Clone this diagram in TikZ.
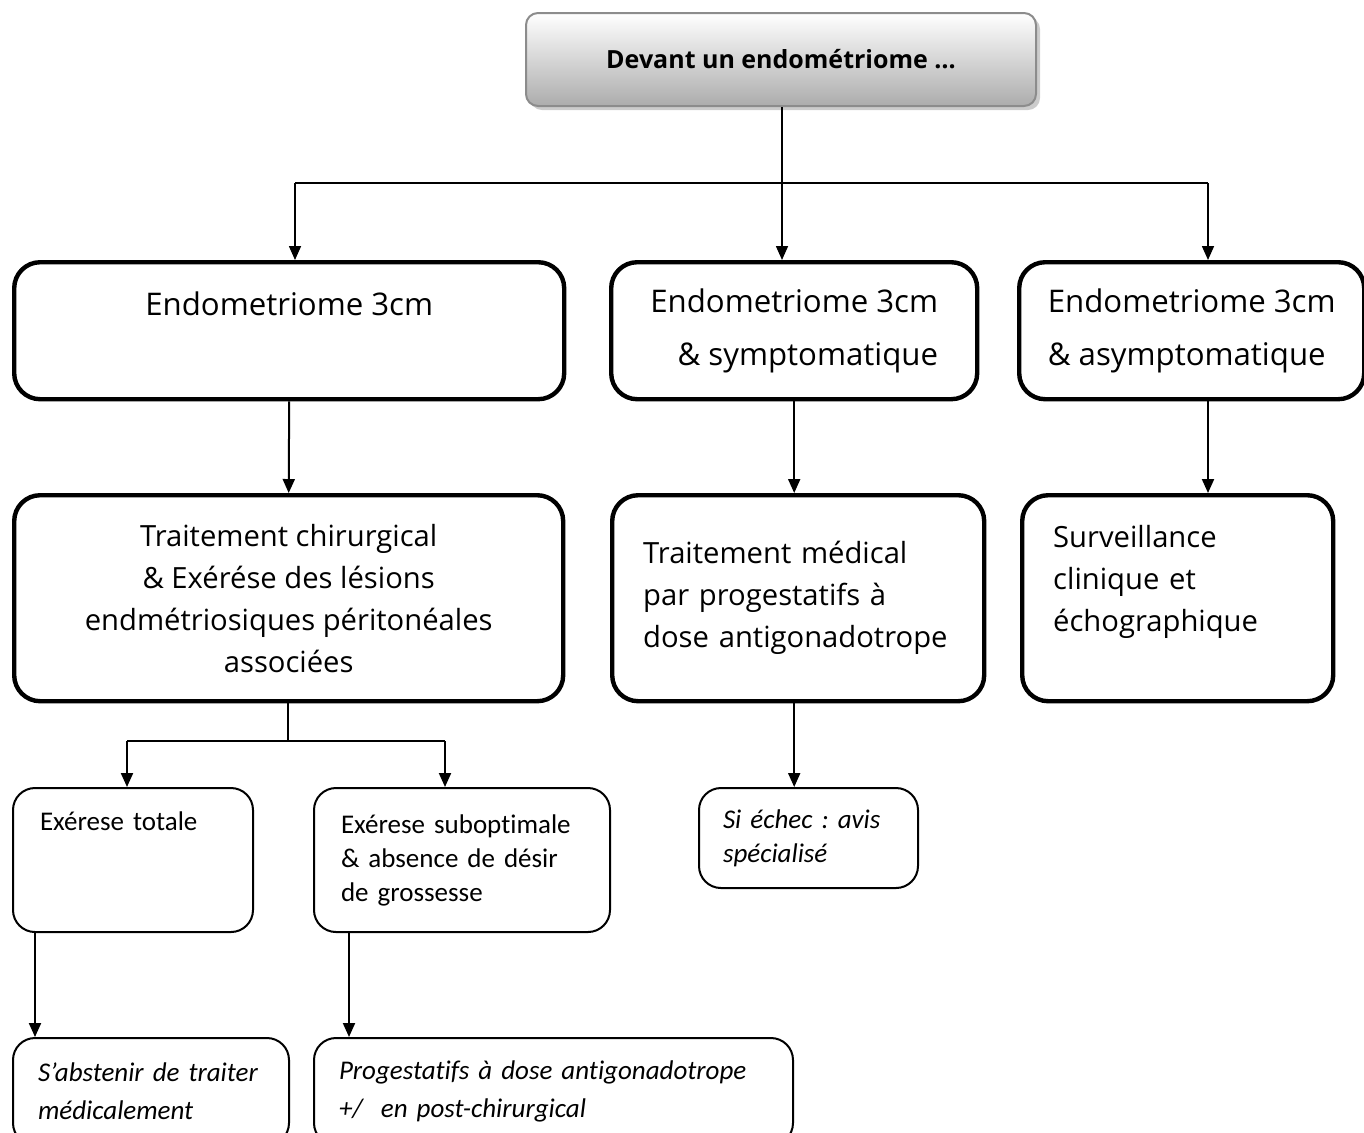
\documentclass[tikz,border=0pt]{standalone}
\usepackage{fontspec}
\setmainfont{Carlito}[Ligatures=NoCommon]
\newfontfamily\comicfont{Open Sans}
\usetikzlibrary{arrows.meta,calc,positioning,shadows}
\frenchspacing
\tikzset{
  bigbox/.style={draw,line width=2.2pt,rounded corners=13pt,anchor=north west,inner ysep=0pt,
    font=\comicfont\fontsize{14.6}{21}\selectfont},
  headbox/.style={bigbox,font=\comicfont\fontsize{15.6}{26.5}\selectfont},
  smallbox/.style={draw,line width=1pt,rounded corners=11pt,anchor=north west,align=left,inner ysep=0pt,
    font=\fontsize{13.5}{17}\selectfont},
  notebox/.style={smallbox,font=\itshape\fontsize{13.5}{19}\selectfont},
  link/.style={line width=1pt,-{Triangle[length=7pt,width=6pt]}},
}
\begin{document}
\begin{tikzpicture}[x=0.5pt,y=-0.5pt]
\useasboundingbox (0,0) rectangle (1364,1132);
% top box
\node[draw=gray!90,line width=1pt,rounded corners=6pt,top color=white,bottom color=gray!65,
  drop shadow={shadow xshift=2pt,shadow yshift=-2pt,opacity=0.4},
  minimum width=255pt,minimum height=46.5pt,anchor=north west,
  font=\comicfont\bfseries\fontsize{12.5}{15}\selectfont] (devant) at (525,12) {Devant un endométriome …};
% first row
\node[headbox,minimum width=275pt,text height=26.5pt,text depth=42pt] (endoA) at (12,260) {Endometriome 3cm};
\node[headbox,minimum width=183pt,minimum height=68.5pt,align=right] (endoB) at (609,260) {Endometriome 3cm\\ \& symptomatique};
\node[headbox,minimum width=172.5pt,minimum height=68.5pt,align=left] (endoC) at (1017,260) {Endometriome 3cm\\ \& asymptomatique};
% second row
\node[bigbox,minimum width=274.5pt,minimum height=103pt,align=center] (chir) at (12,493)
  {Traitement chirurgical\\ \& Exérése des lésions\\ endmétriosiques péritonéales\\ associées};
\node[bigbox,text width=155pt,inner xsep=15.5pt,minimum height=103pt,align=left] (medic) at (610,493)
  {Traitement médical\\ par progestatifs à\\ dose antigonadotrope};
\node[bigbox,text width=124.5pt,inner xsep=15.5pt,minimum height=103pt,align=left,text depth=62pt] (surv) at (1020,493)
  {Surveillance\\ clinique et\\ échographique};
% third row
\node[smallbox,text width=93pt,inner xsep=13.5pt,text height=21pt,text depth=51pt] (totale) at (12,787) {Exérese totale};
\node[smallbox,text width=121pt,inner xsep=13.5pt,minimum height=72pt] (subopt) at (313,787)
  {Exérese suboptimale\\ \& absence de désir\\ de grossesse};
\node[notebox,text width=85.5pt,inner xsep=12pt,minimum height=50pt,font=\itshape\fontsize{13.5}{17}\selectfont] (echec) at (698,787)
  {Si échec : avis\\ spécialisé};
% fourth row
\node[notebox,text width=113pt,inner xsep=12.5pt,minimum height=53.5pt] (abst) at (12,1037)
  {S’abstenir de traiter\\ médicalement};
\node[notebox,text width=214.5pt,inner xsep=12.5pt,minimum height=53.5pt] (progest) at (313,1037)
  {Progestatifs à dose antigonadotrope\\ +/\ \ en post-chirurgical};
% connectors
\coordinate (hub) at (782,183);
\coordinate (hubL) at (295,183);
\coordinate (hubR) at (1208,183);
\draw[line width=0.8pt] (hub |- devant.south) -- (hub);
\draw[line width=0.8pt] (hubL) -- (hubR);
\draw[link,line width=0.8pt] (hubL) -- (hubL |- endoA.north);
\draw[link,line width=0.8pt] (hub) -- (hub |- endoB.north);
\draw[link,line width=0.8pt] (hubR) -- (hubR |- endoC.north);
\draw[link] (endoA.south) -- (chir.north);
\draw[link] (endoB.south) -- (endoB.south |- medic.north);
\draw[link] (hubR |- endoC.south) -- (hubR |- surv.north);
\coordinate (fork) at (288,741);
\coordinate (forkL) at (127,741);
\coordinate (forkR) at (445,741);
\draw[line width=0.8pt] (fork |- chir.south) -- (fork);
\draw[line width=0.8pt] (forkL) -- (forkR);
\draw[link] (forkL) -- (forkL |- totale.north);
\draw[link] (forkR) -- (forkR |- subopt.north);
\draw[link] (medic.south -| endoB.south) -- (endoB.south |- echec.north);
\draw[link] ($(totale.south west)+(23,0)$) -- ($(abst.north west)+(23,0)$);
\draw[link] ($(subopt.south west)+(36,0)$) -- ($(progest.north west)+(36,0)$);
\end{tikzpicture}
\end{document}
